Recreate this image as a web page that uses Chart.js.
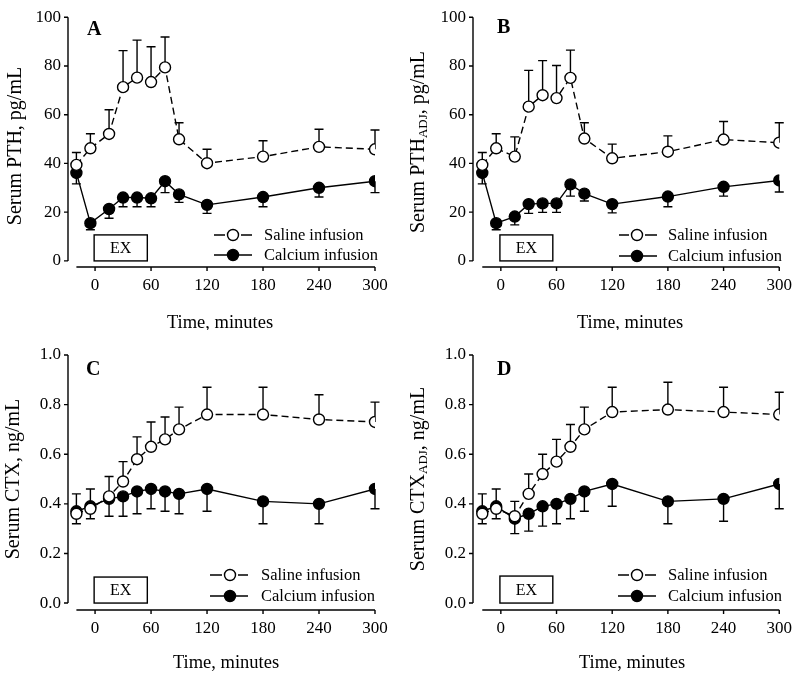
<!DOCTYPE html>
<html>
<head>
<meta charset="utf-8">
<script src="https://cdn.jsdelivr.net/npm/chart.js@4.4.0/dist/chart.umd.min.js"></script>
<style>
  body { margin: 0; background: #fff; }
  #wrap { position: relative; width: 800px; height: 678px; }
  canvas { position: absolute; }
</style>
</head>
<body>
<div id="wrap">
  <canvas id="chartA" width="400" height="330" style="left:0;top:0"></canvas>
  <canvas id="chartB" width="400" height="330" style="left:400px;top:0"></canvas>
  <canvas id="chartC" width="400" height="348" style="left:0;top:330px"></canvas>
  <canvas id="chartD" width="400" height="348" style="left:400px;top:330px"></canvas>
</div>
<script>
// time points (minutes) and tick labels
const times = [-20, -5, 15, 30, 45, 60, 75, 90, 120, 180, 240, 300];
const xTicks = [0, 60, 120, 180, 240, 300];
const pthTicks = [0, 20, 40, 60, 80, 100];
const ctxTicks = [0, 0.2, 0.4, 0.6, 0.8, 1.0];
const seriesNames = ["Saline infusion", "Calcium infusion"];
const xTitle = "Time, minutes";
const boxLabel = "EX";

// A: serum PTH
const pthSaline = [39.4, 46.2, 52.1, 71.3, 75.2, 73.4, 79.4, 49.9, 40.1, 42.8, 46.8, 45.8];
const pthSalineErr = [5.1, 6.0, 9.9, 15.0, 15.4, 14.5, 12.5, 6.8, 5.7, 6.5, 7.2, 7.9];
const pthCalcium = [36.1, 15.5, 21.3, 26.0, 26.0, 25.7, 32.7, 27.3, 23.0, 26.2, 30.0, 32.7];
const pthCalciumErr = [4.5, 2.7, 3.8, 3.8, 3.8, 3.5, 4.7, 3.3, 3.5, 4.0, 3.8, 4.7];

// B: serum PTH adjusted
const pthAdjSaline = [39.4, 46.2, 42.8, 63.3, 68.0, 66.8, 75.1, 50.2, 42.1, 44.8, 49.8, 48.5];
const pthAdjSalineErr = [5.1, 6.0, 8.1, 14.9, 14.2, 13.4, 11.4, 6.5, 5.8, 6.5, 7.4, 8.2];
const pthAdjCalcium = [36.1, 15.5, 18.2, 23.3, 23.6, 23.6, 31.4, 27.6, 23.3, 26.4, 30.4, 33.0];
const pthAdjCalciumErr = [4.5, 2.7, 3.4, 3.8, 3.7, 3.7, 4.8, 3.0, 3.6, 4.2, 3.8, 4.7];

// C: serum CTX
const ctxSaline = [0.36, 0.38, 0.43, 0.49, 0.58, 0.63, 0.66, 0.70, 0.76, 0.76, 0.74, 0.73];
const ctxSalineErr = [0.08, 0.08, 0.08, 0.08, 0.09, 0.10, 0.09, 0.09, 0.11, 0.11, 0.10, 0.08];
const ctxCalcium = [0.37, 0.39, 0.42, 0.43, 0.45, 0.46, 0.45, 0.44, 0.46, 0.41, 0.40, 0.46];
const ctxCalciumErr = [0.05, 0.05, 0.07, 0.08, 0.09, 0.08, 0.08, 0.08, 0.09, 0.09, 0.08, 0.08];

// D: serum CTX adjusted
const ctxAdjSaline = [0.36, 0.38, 0.35, 0.44, 0.52, 0.57, 0.63, 0.70, 0.77, 0.78, 0.77, 0.76];
const ctxAdjSalineErr = [0.08, 0.08, 0.06, 0.08, 0.08, 0.09, 0.09, 0.09, 0.10, 0.11, 0.10, 0.09];
const ctxAdjCalcium = [0.37, 0.39, 0.34, 0.36, 0.39, 0.40, 0.42, 0.45, 0.48, 0.41, 0.42, 0.48];
const ctxAdjCalciumErr = [0.05, 0.05, 0.06, 0.07, 0.08, 0.08, 0.08, 0.08, 0.09, 0.09, 0.09, 0.10];

const SERIF = "'Liberation Serif', 'DejaVu Serif', serif";

function drawErrorBars(chart, values, errs, dir) {
  const c = chart.ctx, xs = chart.scales.x, ys = chart.scales.y;
  c.save();
  c.strokeStyle = "#000";
  c.lineWidth = 1.4;
  times.forEach(function (t, i) {
    const px = xs.getPixelForValue(t);
    const y0 = ys.getPixelForValue(values[i]);
    const y1 = ys.getPixelForValue(values[i] + dir * errs[i]);
    c.beginPath();
    c.moveTo(px, y0);
    c.lineTo(px, y1);
    c.moveTo(px - 4.5, y1);
    c.lineTo(px + 4.5, y1);
    c.stroke();
  });
  c.restore();
}

function makePanel(id, p) {
  const decor = {
    id: "decor",
    beforeDatasetsDraw: function (chart) {
      drawErrorBars(chart, p.saline, p.salineErr, 1);
      drawErrorBars(chart, p.calcium, p.calciumErr, -1);
    },
    afterDraw: function (chart) {
      const c = chart.ctx, xs = chart.scales.x, ys = chart.scales.y;
      const area = chart.chartArea;
      c.save();
      c.strokeStyle = "#000";
      c.fillStyle = "#000";
      c.lineWidth = 1.4;

      // y axis line + ticks
      const yTop = ys.getPixelForValue(p.yTicks[p.yTicks.length - 1]);
      const yBot = ys.getPixelForValue(0);
      c.beginPath();
      c.moveTo(area.left, yTop);
      c.lineTo(area.left, yBot);
      p.yTicks.forEach(function (v) {
        const py = ys.getPixelForValue(v);
        c.moveTo(area.left - 4, py);
        c.lineTo(area.left, py);
      });
      // x axis line + ticks (offset below the plot)
      c.moveTo(xs.getPixelForValue(times[0]), area.bottom);
      c.lineTo(xs.getPixelForValue(300), area.bottom);
      xTicks.forEach(function (v) {
        const px = xs.getPixelForValue(v);
        c.moveTo(px, area.bottom);
        c.lineTo(px, area.bottom + 4);
      });
      c.stroke();

      // EX box
      const bx1 = xs.getPixelForValue(-1), bx2 = xs.getPixelForValue(56);
      c.strokeRect(bx1, yBot - p.boxH, bx2 - bx1, p.boxH);
      c.font = "16px " + SERIF;
      c.textAlign = "center";
      c.textBaseline = "middle";
      c.fillText(boxLabel, (bx1 + bx2) / 2, yBot - p.boxH / 2 + 1);

      // panel letter
      c.font = "bold 20px " + SERIF;
      c.textAlign = "left";
      c.fillText(p.letter, p.letterX, p.letterY);

      // legend
      const lg = p.legend;
      c.font = "16.5px " + SERIF;
      c.beginPath();
      c.moveTo(lg.x1, lg.y1); c.lineTo(lg.mx - 8, lg.y1);
      c.moveTo(lg.mx + 8, lg.y1); c.lineTo(lg.x2, lg.y1);
      c.moveTo(lg.x1, lg.y2); c.lineTo(lg.x2, lg.y2);
      c.stroke();
      c.beginPath();
      c.arc(lg.mx, lg.y1, 5.5, 0, Math.PI * 2);
      c.fillStyle = "#fff"; c.fill(); c.stroke();
      c.beginPath();
      c.arc(lg.mx, lg.y2, 5.5, 0, Math.PI * 2);
      c.fillStyle = "#000"; c.fill(); c.stroke();
      c.fillText(seriesNames[0], lg.tx, lg.y1 + 1);
      c.fillText(seriesNames[1], lg.tx, lg.y2 + 1);

      // x title
      c.font = "18.5px " + SERIF;
      c.textAlign = "center";
      c.fillText(xTitle, p.xTitleX, p.xTitleY);

      // y title with optional subscript
      c.translate(p.yTitleX, p.yTitleY);
      c.rotate(-Math.PI / 2);
      const big = "20px " + SERIF, small = "13px " + SERIF;
      c.font = big;
      const w1 = c.measureText(p.yTitle[0]).width;
      const w3 = c.measureText(p.yTitle[2]).width;
      c.font = small;
      const w2 = p.yTitle[1] ? c.measureText(p.yTitle[1]).width : 0;
      const x0 = -(w1 + w2 + w3) / 2;
      c.textAlign = "left";
      c.font = big;
      c.fillText(p.yTitle[0], x0, 0);
      if (p.yTitle[1]) {
        c.font = small;
        c.fillText(p.yTitle[1], x0 + w1, 5);
      }
      c.font = big;
      c.fillText(p.yTitle[2], x0 + w1 + w2, 0);
      c.restore();
    }
  };

  return new Chart(document.getElementById(id).getContext("2d"), {
    type: "line",
    data: {
      datasets: [
        {
          label: seriesNames[0],
          data: times.map(function (t, i) { return { x: t, y: p.saline[i] }; }),
          borderColor: "#000",
          borderWidth: 1.4,
          borderDash: [7, 4],
          pointRadius: 5.5,
          pointBackgroundColor: "#fff",
          pointBorderColor: "#000",
          pointBorderWidth: 1.4,
          tension: 0,
          fill: false,
        },
        {
          label: seriesNames[1],
          data: times.map(function (t, i) { return { x: t, y: p.calcium[i] }; }),
          borderColor: "#000",
          borderWidth: 1.4,
          pointRadius: 5.5,
          pointBackgroundColor: "#000",
          pointBorderColor: "#000",
          pointBorderWidth: 1.4,
          tension: 0,
          fill: false,
        },
      ],
    },
    options: {
      responsive: false,
      animation: false,
      events: [],
      layout: { padding: { left: 0, top: p.top, right: p.right, bottom: 0 } },
      plugins: { legend: { display: false }, tooltip: { enabled: false } },
      scales: {
        x: {
          type: "linear",
          min: p.xMin,
          max: 300,
          afterBuildTicks: function (s) { s.ticks = xTicks.map(function (v) { return { value: v }; }); },
          afterFit: function (s) { s.height = p.xH; },
          grid: { display: false, drawTicks: false },
          border: { display: false },
          ticks: { padding: 8, color: "#000", maxRotation: 0, font: { family: SERIF, size: 17 } },
        },
        y: {
          type: "linear",
          min: p.yMin,
          max: p.yMax,
          afterBuildTicks: function (s) { s.ticks = p.yTicks.map(function (v) { return { value: v }; }); },
          afterFit: function (s) { s.width = p.left; },
          grid: { display: false, drawTicks: false },
          border: { display: false },
          ticks: {
            padding: 7,
            color: "#000",
            font: { family: SERIF, size: 17 },
            callback: function (v) { return p.fmt(v); },
          },
        },
      },
    },
    plugins: [decor],
  });
}

const fmtInt = function (v) { return String(v); };
const fmtOne = function (v) { return v.toFixed(1); };

makePanel("chartA", {
  saline: pthSaline, salineErr: pthSalineErr, calcium: pthCalcium, calciumErr: pthCalciumErr,
  yTicks: pthTicks, fmt: fmtInt, yMin: -2.5, yMax: 100,
  left: 68, right: 25, top: 13, xH: 63, xMin: -29, boxH: 26,
  letter: "A", letterX: 87, letterY: 30,
  legend: { x1: 214, x2: 252, mx: 233, tx: 264, y1: 235, y2: 255 },
  xTitleX: 220, xTitleY: 323, yTitleX: 16, yTitleY: 146,
  yTitle: ["Serum PTH, pg/mL", "", ""],
});

makePanel("chartB", {
  saline: pthAdjSaline, salineErr: pthAdjSalineErr, calcium: pthAdjCalcium, calciumErr: pthAdjCalciumErr,
  yTicks: pthTicks, fmt: fmtInt, yMin: -2.5, yMax: 100,
  left: 73, right: 19, top: 13, xH: 63, xMin: -30, boxH: 26,
  letter: "B", letterX: 97, letterY: 28,
  legend: { x1: 219, x2: 257, mx: 237, tx: 268, y1: 235, y2: 256 },
  xTitleX: 230, xTitleY: 323, yTitleX: 19, yTitleY: 142,
  yTitle: ["Serum PTH", "ADJ", ", pg/mL"],
});

makePanel("chartC", {
  saline: ctxSaline, salineErr: ctxSalineErr, calcium: ctxCalcium, calciumErr: ctxCalciumErr,
  yTicks: ctxTicks, fmt: fmtOne, yMin: -0.028, yMax: 1.0,
  left: 68, right: 25, top: 25, xH: 68, xMin: -29, boxH: 26,
  letter: "C", letterX: 86, letterY: 40,
  legend: { x1: 210, x2: 248, mx: 230, tx: 261, y1: 245, y2: 266 },
  xTitleX: 226, xTitleY: 333, yTitleX: 14, yTitleY: 149,
  yTitle: ["Serum CTX, ng/mL", "", ""],
});

makePanel("chartD", {
  saline: ctxAdjSaline, salineErr: ctxAdjSalineErr, calcium: ctxAdjCalcium, calciumErr: ctxAdjCalciumErr,
  yTicks: ctxTicks, fmt: fmtOne, yMin: -0.028, yMax: 1.0,
  left: 73, right: 19, top: 25, xH: 68, xMin: -30, boxH: 27,
  letter: "D", letterX: 97, letterY: 40,
  legend: { x1: 218, x2: 256, mx: 237, tx: 268, y1: 245, y2: 266 },
  xTitleX: 232, xTitleY: 333, yTitleX: 19, yTitleY: 149,
  yTitle: ["Serum CTX", "ADJ", ", ng/mL"],
});
</script>
</body>
</html>
